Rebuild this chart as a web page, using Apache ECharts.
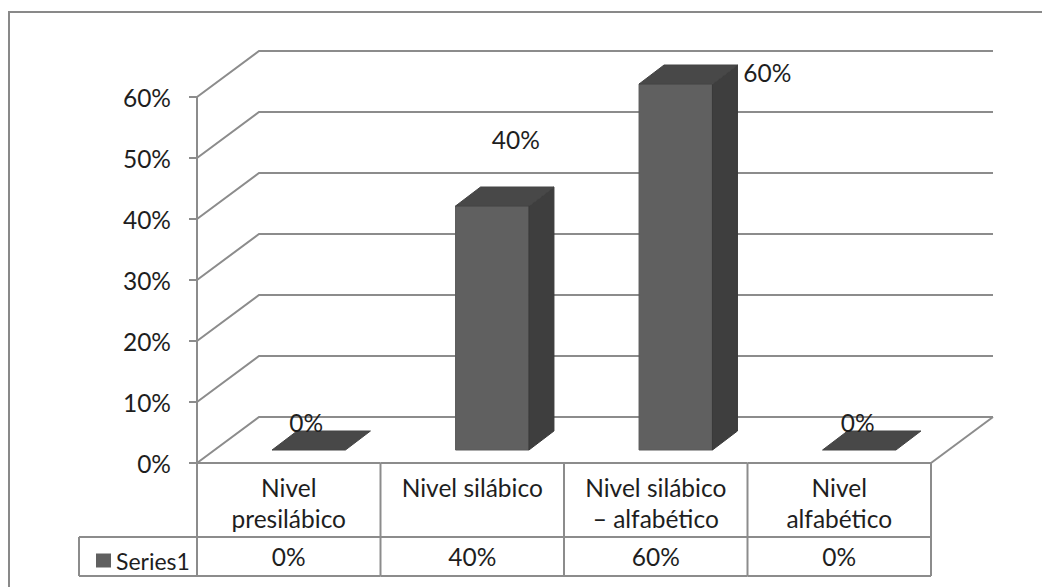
<!DOCTYPE html>
<html>
<head>
<meta charset="utf-8">
<script src="https://cdn.jsdelivr.net/npm/echarts@6/dist/echarts.min.js"></script>
<style>
html,body{margin:0;padding:0;background:#fff;}
#chart{width:1042px;height:587px;}
</style>
</head>
<body>
<div id="chart"></div>
<script>
// ---- data ----
const categories = ['Nivel\npresilábico', 'Nivel silábico', 'Nivel silábico\n– alfabético', 'Nivel\nalfabético'];
const values = [0, 0.4, 0.6, 0];
const yTicks = [0, 0.1, 0.2, 0.3, 0.4, 0.5, 0.6];
const seriesName = 'Series1';

// ---- style / layout ----
const FONT = 'Lato';
const FS = 24.5;
const TXT = '#1e1e1e';
const LINE = '#8c8c8c';
const DX = 62, DY = -46;          // depth of the 3D plot area
const FX = 20, FY = -13;          // bar front plane offset
const BX = 25, BY = -19;          // bar depth
const BAR_RATIO = 0.4;
const labelNudge = [[-15, -18], [11, -57], [79, -2], [-14, -18]];
const HEAD_H = 74, ROW_H = 39, LEGEND_CELL_LEFT = 79;
const pct = v => Math.round(v * 100) + '%';

const chart = echarts.init(document.getElementById('chart'), null, {renderer: 'svg'});

function renderGrid(params, api) {
  const cs = params.coordSys;
  const v = api.value(1);
  const y = api.coord([0, v])[1];
  const x0 = cs.x, x1 = cs.x + cs.width;
  const style = {stroke: LINE, lineWidth: 2, fill: null};
  const children = [{
    type: 'polyline', shape: {points: [[x0, y], [x0 + DX, y + DY], [x1 + DX, y + DY]]}, style: style, silent: true
  }];
  if (v === 0) {
    children.push({type: 'line', shape: {x1: x1, y1: y, x2: x1 + DX, y2: y + DY}, style: style, silent: true});
  }
  return {type: 'group', children: children};
}

function renderBars(params, api) {
  const i = api.value(0), v = api.value(1);
  const top = api.coord([i, v]);
  const base = api.coord([i, 0]);
  const band = api.size([1, 0])[0];
  const w = band * BAR_RATIO;
  const cx = top[0] + FX;
  const yT = top[1] + FY, yB = base[1] + FY;
  const xl = cx - w / 2, xr = cx + w / 2;
  const children = [];
  if (yB - yT > 0.5) {
    children.push({type: 'rect', shape: {x: xl, y: yT, width: w, height: yB - yT}, style: {fill: '#606060', stroke: '#5a5a5a', lineWidth: 1}});
    children.push({type: 'polygon', shape: {points: [[xr, yT], [xr + BX, yT + BY], [xr + BX, yB + BY], [xr, yB]]}, style: {fill: '#3e3e3e', stroke: '#3a3a3a', lineWidth: 1}});
  }
  children.push({type: 'polygon', shape: {points: [[xl, yT], [xr, yT], [xr + BX, yT + BY], [xl + BX, yT + BY]]}, style: {fill: '#484848', stroke: '#444', lineWidth: 1}});
  const n = labelNudge[i];
  children.push({
    type: 'text',
    x: cx + BX / 2 + n[0], y: yT + BY / 2 + n[1],
    style: {text: pct(v), fill: TXT, font: FS + 'px ' + FONT, align: 'center', verticalAlign: 'middle'}
  });
  return {type: 'group', children: children};
}

function renderTable(params, api) {
  const cs = params.coordSys;
  const i = api.value(0), v = api.value(1);
  const c = api.coord([i, 0]);
  const band = api.size([1, 0])[0];
  const xs = c[0] - band / 2, xe = c[0] + band / 2;
  const y0 = cs.y + cs.height, y1 = y0 + HEAD_H, y2 = y1 + ROW_H;
  const st = {stroke: LINE, lineWidth: 2};
  const L = (a, b, cc, d) => ({type: 'line', shape: {x1: a, y1: b, x2: cc, y2: d}, style: st, silent: true});
  const children = [L(xs, y0, xe, y0), L(xs, y1, xe, y1), L(xs, y2, xe, y2), L(xs, y0, xs, y2)];
  if (i === values.length - 1) children.push(L(xe, y0, xe, y2));
  if (i === 0) {
    children.push(L(LEGEND_CELL_LEFT, y1, xs, y1), L(LEGEND_CELL_LEFT, y2, xs, y2), L(LEGEND_CELL_LEFT, y1, LEGEND_CELL_LEFT, y2));
  }
  children.push({
    type: 'text', x: c[0], y: (y1 + y2) / 2,
    style: {text: pct(v), fill: TXT, font: FS + 'px ' + FONT, align: 'center', verticalAlign: 'middle'}
  });
  return {type: 'group', children: children};
}

const option = {
  backgroundColor: '#fff',
  animation: false,
  graphic: [{
    type: 'rect', shape: {x: 9, y: 12, width: 1100, height: 700},
    style: {fill: null, stroke: '#898989', lineWidth: 2}, silent: true
  }],
  legend: {
    data: [{name: seriesName, icon: 'rect'}],
    left: 91, top: 544,
    itemWidth: 15, itemHeight: 14, itemGap: 5,
    textStyle: {fontFamily: FONT, fontSize: 23, color: TXT},
    selectedMode: false
  },
  grid: {left: 197, right: 111, top: 97, bottom: 124, containLabel: false},
  xAxis: {
    type: 'category', data: categories,
    axisLine: {show: false}, axisTick: {show: false},
    axisLabel: {interval: 0, fontFamily: FONT, fontSize: FS, color: TXT, lineHeight: 31, verticalAlign: 'top', margin: 9}
  },
  yAxis: {
    type: 'value', min: 0, max: 0.6, interval: 0.1,
    axisLine: {show: true, lineStyle: {color: LINE, width: 2}},
    axisTick: {show: true, length: 8, lineStyle: {color: LINE, width: 2}},
    axisLabel: {formatter: pct, fontFamily: FONT, fontSize: FS, color: TXT, margin: 26},
    splitLine: {show: false}
  },
  series: [
    {type: 'custom', name: 'grid3d', renderItem: renderGrid, data: yTicks.map(t => [0, t]), silent: true, z: 1},
    {type: 'custom', name: 'table', renderItem: renderTable, data: values.map((v, i) => [i, v]), silent: true, z: 1},
    {type: 'custom', name: seriesName, renderItem: renderBars, data: values.map((v, i) => [i, v]),
     itemStyle: {color: '#606060'}, z: 3}
  ]
};
chart.setOption(option);
</script>
</body>
</html>
